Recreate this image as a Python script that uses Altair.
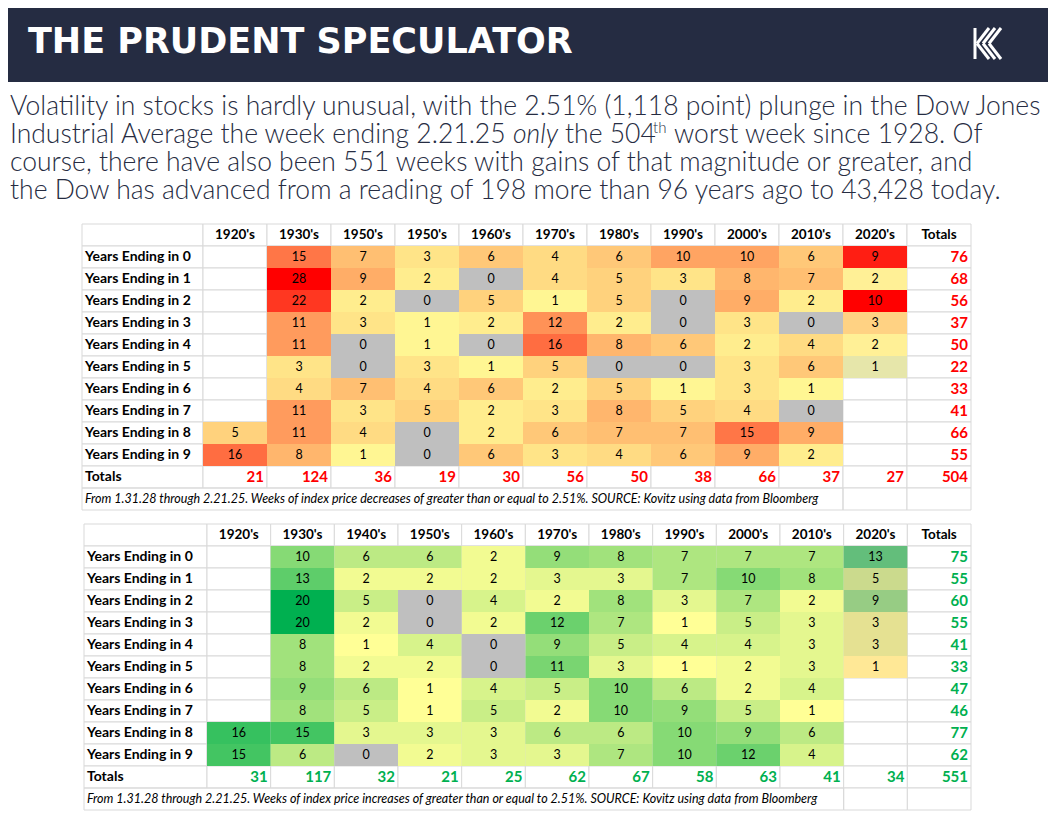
import altair as alt
import pandas as pd

# ---------------- data ----------------
TITLE = "THE PRUDENT SPECULATOR"
SUBTITLE_1 = "Volatility in stocks is hardly unusual, with the 2.51% (1,118 point) plunge in the Dow Jones"
SUBTITLE_2 = ["Industrial Average the week ending 2.21.25", "only", "the 504", "th", "worst week since 1928. Of"]
SUBTITLE_3 = "course, there have also been 551 weeks with gains of that magnitude or greater, and"
SUBTITLE_4 = "the Dow has advanced from a reading of 198 more than 96 years ago to 43,428 today."

DECADES = ["1920s", "1930s", "1940s", "1950s", "1960s", "1970s", "1980s", "1990s", "2000s", "2010s", "2020s"]
HEADERS_DOWN = ["1920's", "1930's", "1950's", "1950's", "1960's", "1970's", "1980's", "1990's", "2000's", "2010's", "2020's", "Totals"]
HEADERS_UP = ["1920's", "1930's", "1940's", "1950's", "1960's", "1970's", "1980's", "1990's", "2000's", "2010's", "2020's", "Totals"]
ROW_LABELS = ["Years Ending in 0", "Years Ending in 1", "Years Ending in 2", "Years Ending in 3", "Years Ending in 4",
              "Years Ending in 5", "Years Ending in 6", "Years Ending in 7", "Years Ending in 8", "Years Ending in 9"]
TOTALS_LABEL = "Totals"

DOWN_VALUES = [
    [None, 15, 7, 3, 6, 4, 6, 10, 10, 6, 9],
    [None, 28, 9, 2, 0, 4, 5, 3, 8, 7, 2],
    [None, 22, 2, 0, 5, 1, 5, 0, 9, 2, 10],
    [None, 11, 3, 1, 2, 12, 2, 0, 3, 0, 3],
    [None, 11, 0, 1, 0, 16, 8, 6, 2, 4, 2],
    [None, 3, 0, 3, 1, 5, 0, 0, 3, 6, 1],
    [None, 4, 7, 4, 6, 2, 5, 1, 3, 1, None],
    [None, 11, 3, 5, 2, 3, 8, 5, 4, 0, None],
    [5, 11, 4, 0, 2, 6, 7, 7, 15, 9, None],
    [16, 8, 1, 0, 6, 3, 4, 6, 9, 2, None],
]
DOWN_ROW_TOTALS = [76, 68, 56, 37, 50, 22, 33, 41, 66, 55]
DOWN_COL_TOTALS = [21, 124, 36, 19, 30, 56, 50, 38, 66, 37, 27]
DOWN_GRAND_TOTAL = 504
DOWN_NOTE = ("From 1.31.28 through 2.21.25. Weeks of index price decreases of greater than or equal to 2.51%. "
             "SOURCE: Kovitz using data from Bloomberg")

UP_VALUES = [
    [None, 10, 6, 6, 2, 9, 8, 7, 7, 7, 13],
    [None, 13, 2, 2, 2, 3, 3, 7, 10, 8, 5],
    [None, 20, 5, 0, 4, 2, 8, 3, 7, 2, 9],
    [None, 20, 2, 0, 2, 12, 7, 1, 5, 3, 3],
    [None, 8, 1, 4, 0, 9, 5, 4, 4, 3, 3],
    [None, 8, 2, 2, 0, 11, 3, 1, 2, 3, 1],
    [None, 9, 6, 1, 4, 5, 10, 6, 2, 4, None],
    [None, 8, 5, 1, 5, 2, 10, 9, 5, 1, None],
    [16, 15, 3, 3, 3, 6, 6, 10, 9, 6, None],
    [15, 6, 0, 2, 3, 3, 7, 10, 12, 4, None],
]
UP_ROW_TOTALS = [75, 55, 60, 55, 41, 33, 47, 46, 77, 62]
UP_COL_TOTALS = [31, 117, 32, 21, 25, 62, 67, 58, 63, 41, 34]
UP_GRAND_TOTAL = 551
UP_NOTE = ("From 1.31.28 through 2.21.25. Weeks of index price increases of greater than or equal to 2.51%. "
           "SOURCE: Kovitz using data from Bloomberg")

# ---------------- styles ----------------
FONT = "Lato"
NAVY = "#252c42"
SUB_COLOR = "#262c42"
GRID = "#d9d9d9"
ZERO = "#bfbfbf"
ROWS = ["hdr"] + ["r%d" % i for i in range(10)] + ["tot", "note"]
COLS = DECADES + ["Totals"]
ROW_H = 22
TABLE_H = ROW_H * len(ROWS)

DOWN_MAIN = dict(domain=[1, 28], range=["#fff693", "#ff0000"])
DOWN_LAST = dict(domain=[1, 2, 10], range=["#e6e6aa", "#fff096", "#ff0000"])
UP_MAIN = dict(domain=[1, 20], range=["#ffff96", "#00b050"])
UP_LAST = dict(domain=[1, 13], range=["#ffe896", "#63be7b"])


def make_table(values, row_totals, col_totals, grand, headers, note, total_color,
               main_scale, last_scale, label_w, col_w, offset):
    grid_w = col_w * len(COLS)
    yenc = alt.Y("row:N", scale=alt.Scale(domain=ROWS, paddingInner=0, paddingOuter=0), axis=None)

    def xenc(**kw):
        return alt.X("col:N", scale=alt.Scale(domain=COLS, paddingInner=0, paddingOuter=0), axis=None, **kw)

    recs = []
    for r, rowvals in enumerate(values):
        for c, v in enumerate(rowvals):
            if v is not None:
                recs.append({"row": "r%d" % r, "col": DECADES[c], "value": v,
                             "last": c == len(DECADES) - 1})
    vals = pd.DataFrame(recs)
    main_df = vals[(vals["value"] > 0) & (~vals["last"])]
    last_df = vals[(vals["value"] > 0) & (vals["last"])]
    zero_df = vals[vals["value"] == 0]

    tots = [{"row": "r%d" % r, "col": "Totals", "value": t} for r, t in enumerate(row_totals)]
    tots += [{"row": "tot", "col": DECADES[c], "value": t} for c, t in enumerate(col_totals)]
    tots.append({"row": "tot", "col": "Totals", "value": grand})
    tots = pd.DataFrame(tots)

    hdr = pd.DataFrame({"row": ["hdr"] * len(COLS), "col": COLS, "text": headers})
    border = pd.DataFrame([{"row": r, "col": c} for r in ROWS[:-1] for c in COLS]
                          + [{"row": "note", "col": c} for c in COLS[-2:]])
    note_df = pd.DataFrame({"row": ["note"], "text": [note]})

    borders = alt.Chart(border).mark_rect(fill="white", stroke=GRID, strokeWidth=1).encode(x=xenc(), y=yenc)
    merged = alt.Chart(note_df).mark_rect(fillOpacity=0, stroke=GRID, strokeWidth=1).encode(
        x=alt.value(-label_w), x2=alt.value(col_w * (len(DECADES) - 1)), y=yenc)
    main_cells = alt.Chart(main_df).mark_rect().encode(
        x=xenc(), y=yenc,
        color=alt.Color("value:Q", scale=alt.Scale(interpolate="rgb", **main_scale), legend=None))
    last_cells = alt.Chart(last_df).mark_rect().encode(
        x=xenc(), y=yenc,
        color=alt.Color("value:Q", scale=alt.Scale(interpolate="rgb", **last_scale), legend=None))
    zero_cells = alt.Chart(zero_df).mark_rect(color=ZERO).encode(x=xenc(), y=yenc)
    val_text = alt.Chart(vals).mark_text(font=FONT, fontSize=12.5, color="black", baseline="middle").encode(
        x=xenc(), y=yenc, text=alt.Text("value:Q", format="d"))
    hdr_text = alt.Chart(hdr).mark_text(font=FONT, fontSize=13.5, fontWeight="bold", color="black",
                                        baseline="middle").encode(x=xenc(), y=yenc, text="text:N")
    tot_text = alt.Chart(tots).mark_text(font=FONT, fontSize=15, fontWeight="bold", color=total_color,
                                         align="right", baseline="middle", dx=-3).encode(
        x=xenc(bandPosition=1), y=yenc, text=alt.Text("value:Q", format="d"))
    note_text = alt.Chart(note_df).mark_text(font=FONT, fontSize=12.5, fontStyle="italic", color="black",
                                             align="left", baseline="middle").encode(
        x=alt.value(-label_w + 3), y=yenc, text="text:N")

    grid = alt.layer(borders, main_cells, last_cells, zero_cells, merged, val_text, hdr_text,
                     tot_text, note_text).resolve_scale(color="independent").properties(
        width=grid_w, height=TABLE_H)

    lab = pd.DataFrame({"row": ROWS[:-1], "text": [""] + ROW_LABELS + [TOTALS_LABEL]})
    lab_rect = alt.Chart(lab).mark_rect(fill="white", stroke=GRID, strokeWidth=1).encode(
        x=alt.value(0), x2=alt.value(label_w), y=yenc)
    lab_text = alt.Chart(lab).mark_text(font=FONT, fontSize=14, fontWeight="bold", color="black",
                                        align="left", baseline="middle").encode(
        x=alt.value(3), y=yenc, text="text:N")
    labels = alt.layer(lab_rect, lab_text).properties(width=label_w, height=TABLE_H)

    spacer = alt.Chart(pd.DataFrame({"k": [0]})).mark_rect(opacity=0).encode(
        x=alt.value(0), y=alt.value(0)).properties(width=offset, height=TABLE_H)
    return alt.hconcat(spacer, labels, grid, spacing=0, bounds="flush")


# ---------------- header ----------------
one = alt.Chart(pd.DataFrame({"k": [0]}))
head_layers = [
    one.mark_rect(color=NAVY).encode(x=alt.value(0), x2=alt.value(1040), y=alt.value(0), y2=alt.value(74)),
    one.mark_text(text=TITLE, font="DejaVu Sans", fontSize=35, fontWeight="bold", color="white",
                  align="left", baseline="alphabetic").encode(x=alt.value(20), y=alt.value(45)),
]
# logo: stem + nested chevrons
logo_segments = [(967, 20, 967, 51)]
for k in range(3):
    vx = 969 + 6 * k
    logo_segments.append((vx, 35.5, vx + 12, 20))
    logo_segments.append((vx, 35.5, vx + 12, 51))
for (x1, y1, x2, y2) in logo_segments:
    head_layers.append(one.mark_rule(color="white", strokeWidth=3).encode(
        x=alt.value(x1), y=alt.value(y1), x2=alt.value(x2), y2=alt.value(y2)))

sub_style = dict(font=FONT, fontSize=26.5, fontWeight=300, color=SUB_COLOR, align="left", baseline="alphabetic")
for txt, yy in [(SUBTITLE_1, 107), (SUBTITLE_3, 163), (SUBTITLE_4, 191)]:
    head_layers.append(one.mark_text(text=txt, **sub_style).encode(x=alt.value(2), y=alt.value(yy)))
seg_x = [2, 505, 557, 645, 666]
for i, (txt, xx) in enumerate(zip(SUBTITLE_2, seg_x)):
    st = dict(sub_style)
    yy = 135
    if i == 1:
        st["fontStyle"] = "italic"
    if i == 3:
        st["fontSize"] = 15
        yy = 125
    head_layers.append(one.mark_text(text=txt, **st).encode(x=alt.value(xx), y=alt.value(yy)))

header = alt.layer(*head_layers).properties(width=1040, height=203)

t1 = make_table(DOWN_VALUES, DOWN_ROW_TOTALS, DOWN_COL_TOTALS, DOWN_GRAND_TOTAL, HEADERS_DOWN, DOWN_NOTE,
                "#ff0000", DOWN_MAIN, DOWN_LAST, 121, 64, 74)
t2 = make_table(UP_VALUES, UP_ROW_TOTALS, UP_COL_TOTALS, UP_GRAND_TOTAL, HEADERS_UP, UP_NOTE,
                "#00b050", UP_MAIN, UP_LAST, 123, 764 / 12, 76)

chart = alt.vconcat(header, t1, t2, spacing=12).properties(padding=0).configure_view(strokeWidth=0)

chart.save("out.html", embed_options={"renderer": "svg", "actions": False})
